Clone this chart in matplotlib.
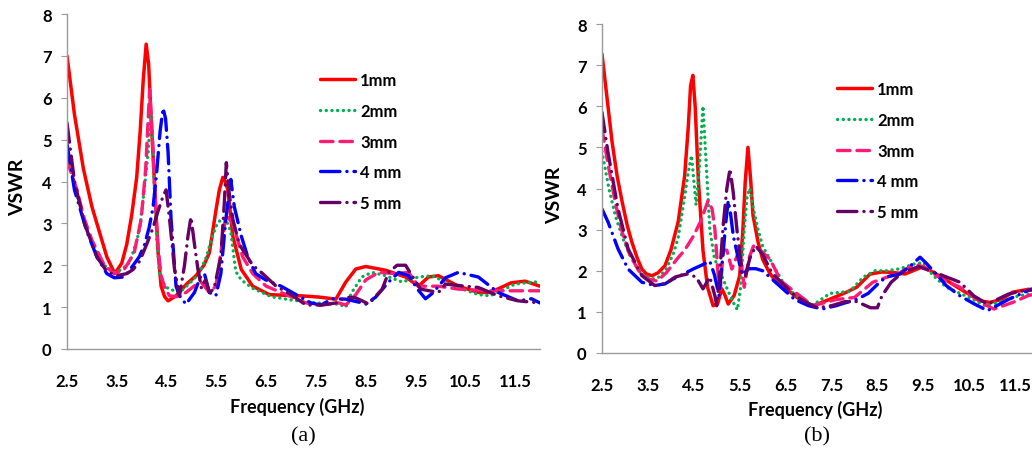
import matplotlib
matplotlib.use('Agg')
import matplotlib.pyplot as plt

plt.rcParams['font.family'] = ['Lato', 'DejaVu Sans']
plt.rcParams['lines.scale_dashes'] = False

labels = ['1mm', '2mm', '3mm', '4 mm', '5 mm']
xticks = [2.5, 3.5, 4.5, 5.5, 6.5, 7.5, 8.5, 9.5, 10.5, 11.5]

# ---- (a) ----
a1_x = [2.5, 2.65, 2.83, 3.0, 3.15, 3.3, 3.46, 3.6, 3.7, 3.8, 3.9, 3.97, 4.03, 4.09, 4.14, 4.19, 4.26, 4.33,
        4.39, 4.46, 4.53, 4.69, 4.9, 5.09, 5.25, 5.36, 5.49, 5.56, 5.63, 5.68, 5.73, 5.83, 6.0, 6.23, 6.56,
        6.9, 7.2, 7.56, 7.9, 8.1, 8.3, 8.5, 8.9, 9.3, 9.56, 9.76, 9.96, 10.36, 10.76, 11.0, 11.42, 11.7, 12.0]
a1_y = [7.0, 5.6, 4.3, 3.4, 2.8, 2.2, 1.8, 2.05, 2.5, 3.2, 4.1, 5.2, 6.4, 7.28, 6.8, 5.5, 3.9, 2.3,
        1.5, 1.25, 1.15, 1.27, 1.55, 1.75, 2.0, 2.3, 3.3, 3.8, 4.1, 4.0, 3.8, 2.7, 1.9, 1.5, 1.3,
        1.28, 1.27, 1.24, 1.19, 1.6, 1.91, 1.97, 1.88, 1.72, 1.5, 1.72, 1.75, 1.5, 1.35, 1.35, 1.58, 1.62, 1.5]

a2_x = [2.5, 2.65, 2.85, 3.05, 3.25, 3.45, 3.6, 3.76, 3.88, 3.96, 4.06, 4.13, 4.18, 4.22, 4.26, 4.31, 4.36,
        4.46, 4.56, 4.76, 4.95, 5.15, 5.3, 5.42, 5.52, 5.6, 5.69, 5.79, 5.89, 6.0, 6.23, 6.6, 7.0, 7.5,
        7.96, 8.1, 8.22, 8.42, 8.63, 8.9, 9.23, 9.56, 9.83, 10.1, 10.4, 10.76, 11.0, 11.5, 11.86, 12.0]
a2_y = [4.8, 3.9, 3.0, 2.4, 2.0, 1.82, 1.9, 2.07, 2.5, 2.86, 3.9, 4.7, 5.7, 5.0, 3.6, 2.5, 1.8,
        1.5, 1.43, 1.35, 1.55, 1.8, 2.2, 2.7, 3.0, 3.1, 3.1, 2.8, 1.85, 1.65, 1.45, 1.25, 1.17, 1.1,
        1.07, 1.0, 1.35, 1.72, 1.83, 1.75, 1.6, 1.72, 1.75, 1.6, 1.45, 1.3, 1.27, 1.55, 1.6, 1.6]

a3_x = [2.5, 2.7, 2.85, 3.0, 3.25, 3.45, 3.65, 3.85, 3.99, 4.08, 4.16, 4.23, 4.29, 4.34, 4.39, 4.47, 4.56,
        4.7, 4.89, 5.05, 5.19, 5.36, 5.49, 5.59, 5.69, 5.83, 6.03, 6.23, 6.5, 6.9, 7.3, 7.6, 7.96, 8.1,
        8.3, 8.5, 8.76, 9.1, 9.36, 9.56, 9.96, 10.36, 11.0, 11.7, 12.0]
a3_y = [4.5, 3.8, 3.1, 2.6, 2.0, 1.8, 1.9, 2.3, 3.1, 4.3, 6.2, 4.7, 3.1, 2.3, 1.75, 1.45, 1.27,
        1.25, 1.35, 1.5, 1.6, 1.35, 1.5, 2.3, 3.2, 3.0, 2.2, 1.8, 1.5, 1.3, 1.1, 1.05, 1.1, 1.05,
        1.3, 1.65, 1.83, 1.8, 1.83, 1.5, 1.5, 1.43, 1.39, 1.39, 1.39]

a4_x = [2.5, 2.65, 2.9, 3.1, 3.3, 3.45, 3.65, 3.83, 3.95, 4.06, 4.15, 4.23, 4.3, 4.37, 4.43, 4.48, 4.53,
        4.59, 4.69, 4.76, 4.89, 5.06, 5.19, 5.26, 5.36, 5.49, 5.59, 5.69, 5.79, 5.86, 6.0, 6.13, 6.29,
        6.49, 6.8, 7.1, 7.4, 7.6, 7.83, 8.1, 8.43, 8.5, 8.7, 8.96, 9.16, 9.36, 9.56, 9.7, 9.86, 10.1,
        10.36, 10.76, 11.16, 11.56, 11.83, 12.0]
a4_y = [4.9, 3.8, 2.8, 2.2, 1.8, 1.7, 1.72, 2.0, 2.2, 2.5, 2.9, 3.4, 4.2, 5.2, 5.75, 5.5, 4.7,
        3.1, 1.5, 1.27, 1.07, 1.35, 1.75, 1.8, 1.35, 1.27, 1.8, 3.1, 4.05, 3.4, 2.7, 2.2, 1.8,
        1.65, 1.5, 1.3, 1.1, 1.05, 1.2, 1.19, 1.1, 1.07, 1.24, 1.6, 1.83, 1.75, 1.4, 1.2, 1.35, 1.7,
        1.83, 1.72, 1.35, 1.15, 1.2, 1.1]

a5_x = [2.5, 2.65, 2.85, 3.1, 3.3, 3.5, 3.7, 3.83, 3.96, 4.1, 4.23, 4.33, 4.43, 4.49, 4.56, 4.66, 4.76,
        4.86, 4.93, 4.99, 5.06, 5.13, 5.2, 5.28, 5.36, 5.45, 5.59, 5.66, 5.7, 5.76, 5.83, 5.96, 6.23,
        6.43, 6.7, 7.0, 7.3, 7.6, 7.9, 8.1, 8.3, 8.43, 8.56, 8.83, 8.96, 9.13, 9.3, 9.43, 9.6, 9.96,
        10.1, 10.5, 10.76, 11.16, 11.56, 12.0]
a5_y = [5.4, 4.0, 3.0, 2.2, 1.85, 1.75, 1.8, 1.9, 2.1, 2.5, 2.9, 3.3, 3.65, 3.8, 3.1, 1.9, 1.27,
        2.0, 2.7, 3.15, 2.5, 1.9, 1.45, 1.65, 1.35, 1.43, 2.2, 3.5, 4.45, 3.7, 3.1, 2.5, 2.0,
        1.8, 1.5, 1.3, 1.05, 1.05, 1.1, 1.24, 1.22, 1.15, 1.07, 1.43, 1.83, 2.0, 2.0, 1.75, 1.43, 1.35,
        1.55, 1.5, 1.47, 1.27, 1.15, 1.1]

# ---- (b) ----
b1_x = [2.5, 2.62, 2.72, 2.83, 2.94, 3.05, 3.15, 3.27, 3.37, 3.47, 3.59, 3.72, 3.87, 4.0, 4.16, 4.3, 4.38,
        4.43, 4.48, 4.53, 4.6, 4.7, 4.8, 4.92, 5.02, 5.11, 5.18, 5.25, 5.38, 5.5, 5.57, 5.62, 5.68, 5.74,
        5.79, 5.9, 6.0, 6.15, 6.3, 6.6, 6.81, 7.1, 7.45, 7.83, 8.05, 8.34, 8.6, 8.84, 9.1, 9.5, 9.86,
        10.3, 10.73, 10.95, 11.2, 11.45, 11.8, 12.0]
b1_y = [7.27, 6.1, 5.13, 4.3, 3.67, 3.1, 2.7, 2.3, 2.04, 1.92, 1.88, 1.95, 2.12, 2.5, 3.19, 4.3, 5.5,
        6.5, 6.75, 6.0, 4.2, 2.5, 1.6, 1.15, 1.2, 1.56, 1.4, 1.19, 1.4, 1.88, 3.0, 4.15, 5.0, 4.2,
        3.35, 2.7, 2.28, 1.95, 1.72, 1.48, 1.3, 1.15, 1.3, 1.48, 1.6, 1.92, 1.97, 1.96, 1.92, 2.1, 1.87,
        1.56, 1.27, 1.23, 1.3, 1.48, 1.55, 1.5]

b2_x = [2.5, 2.65, 2.8, 2.95, 3.1, 3.25, 3.4, 3.6, 3.75, 3.9, 4.05, 4.16, 4.3, 4.38, 4.45, 4.5, 4.55,
        4.62, 4.7, 4.76, 4.85, 4.95, 5.1, 5.25, 5.35, 5.45, 5.52, 5.6, 5.66, 5.72, 5.8, 5.9, 6.0, 6.2,
        6.5, 6.8, 7.1, 7.47, 7.9, 8.2, 8.45, 8.7, 9.0, 9.28, 9.5, 9.7, 10.0, 10.5, 10.85, 11.2, 11.6, 12.0]
b2_y = [4.9, 4.0, 3.3, 2.8, 2.4, 2.1, 1.9, 1.8, 1.85, 2.05, 2.4, 2.8, 3.8, 4.4, 4.8, 4.2, 3.6,
        4.5, 6.0, 4.8, 3.0, 2.3, 1.9, 1.5, 1.25, 1.05, 1.6, 3.0, 3.8, 4.0, 3.5, 3.0, 2.6, 2.2,
        1.6, 1.35, 1.17, 1.45, 1.5, 1.85, 2.0, 2.0, 2.05, 2.16, 2.2, 1.9, 1.6, 1.35, 1.15, 1.25, 1.4, 1.45]

b3_x = [2.5, 2.63, 2.8, 2.95, 3.1, 3.3, 3.5, 3.7, 3.9, 4.13, 4.3, 4.48, 4.65, 4.81, 4.9, 4.96, 5.03,
        5.08, 5.14, 5.22, 5.33, 5.42, 5.5, 5.6, 5.7, 5.8, 5.95, 6.16, 6.4, 6.8, 7.1, 7.6, 8.0, 8.4,
        8.6, 9.0, 9.3, 9.5, 9.9, 10.3, 10.8, 11.04, 11.45, 11.8, 12.0]
b3_y = [5.45, 4.6, 3.6, 2.9, 2.4, 2.0, 1.8, 1.75, 1.95, 2.28, 2.5, 2.82, 3.2, 3.7, 3.5, 3.0, 1.9,
        1.55, 2.5, 2.5, 2.04, 2.3, 2.5, 1.6, 2.3, 2.6, 2.5, 2.28, 1.75, 1.4, 1.15, 1.3, 1.35, 1.72,
        1.8, 1.96, 2.16, 2.1, 1.8, 1.6, 1.2, 1.07, 1.23, 1.4, 1.45]

b4_x = [2.5, 2.63, 2.85, 3.07, 3.37, 3.65, 3.87, 4.05, 4.24, 4.5, 4.7, 4.85, 4.95, 5.05, 5.14, 5.2, 5.25,
        5.3, 5.36, 5.45, 5.55, 5.7, 5.85, 6.0, 6.2, 6.38, 6.7, 7.0, 7.3, 7.6, 7.83, 8.05, 8.3, 8.55,
        8.7, 8.99, 9.2, 9.43, 9.55, 9.8, 10.0, 10.3, 10.6, 10.9, 11.35, 11.85, 12.0]
b4_y = [3.5, 3.19, 2.53, 2.04, 1.72, 1.64, 1.68, 1.8, 1.9, 2.05, 2.15, 2.23, 1.9, 1.4, 2.45, 3.2, 3.7,
        3.4, 2.85, 2.4, 1.9, 2.05, 2.05, 2.0, 1.8, 1.62, 1.3, 1.15, 1.07, 1.15, 1.23, 1.3, 1.45, 1.72,
        1.85, 1.92, 2.1, 2.33, 2.2, 1.9, 1.64, 1.39, 1.2, 1.03, 1.3, 1.55, 1.6]

b5_x = [2.5, 2.63, 2.85, 3.07, 3.37, 3.65, 3.9, 4.1, 4.35, 4.55, 4.7, 4.85, 4.96, 5.0, 5.07, 5.14, 5.22,
        5.29, 5.36, 5.44, 5.55, 5.62, 5.72, 5.85, 6.0, 6.2, 6.38, 6.7, 7.0, 7.2, 7.5, 7.8, 8.05, 8.35,
        8.5, 8.6, 8.8, 9.05, 9.4, 9.75, 10.3, 10.6, 10.9, 11.35, 11.6, 12.0]
b5_y = [5.85, 4.88, 3.5, 2.53, 1.88, 1.64, 1.7, 1.85, 1.92, 1.85, 1.56, 1.85, 1.39, 1.15, 2.0, 3.1, 4.0,
        4.48, 3.9, 3.0, 1.97, 1.85, 2.3, 2.6, 2.4, 1.95, 1.75, 1.4, 1.2, 1.1, 1.15, 1.25, 1.25, 1.1,
        1.1, 1.39, 1.72, 1.96, 2.1, 1.96, 1.72, 1.39, 1.19, 1.43, 1.5, 1.55]

colors = ['#ff0000', '#00b050', '#ff1a75', '#0000ff', '#660066']
dashes = [None, (0.1, 4.0), (9, 5), (14, 5, 0.1, 5), (14, 5, 0.1, 5)]
widths = [2.5, 2.4, 2.4, 2.4, 2.4]


def panel(ax, series, leg_xy):
    for (x, y), lab, c, d, w in zip(series, labels, colors, dashes, widths):
        ln, = ax.plot(x, y, color=c, lw=w, label=lab, solid_capstyle='round')
        if d is not None:
            ln.set_dashes(d)
            ln.set_dash_capstyle('round')
    ax.set_xlim(2.5, 12)
    ax.set_ylim(0, 8)
    ax.set_xticks(xticks)
    ax.set_xticklabels([str(t) for t in xticks])
    ax.set_yticks(range(9))
    ax.patch.set_alpha(0)
    for s in ['top', 'right']:
        ax.spines[s].set_visible(False)
    for s in ['left', 'bottom']:
        ax.spines[s].set_color('#9a9a9a')
        ax.spines[s].set_linewidth(1.0)
    ax.tick_params(axis='y', length=4, color='#9a9a9a', pad=7, labelsize=12)
    ax.tick_params(axis='x', length=0, pad=17, labelsize=12)
    for t in ax.get_xticklabels() + ax.get_yticklabels():
        t.set_fontweight('bold')
    ax.legend(loc='upper left', bbox_to_anchor=leg_xy, frameon=False, borderpad=0,
              borderaxespad=0, handlelength=2.1, handletextpad=0.3, labelspacing=0.88,
              prop={'weight': 'bold', 'size': 12})


fig = plt.figure(figsize=(10.32, 4.52), dpi=100)
axa = fig.add_axes([67 / 1032, 1 - 350 / 452, 473 / 1032, 335 / 452])
axb = fig.add_axes([602 / 1032, 1 - 354 / 452, 436 / 1032, 329 / 452])

panel(axa, [(a1_x, a1_y), (a2_x, a2_y), (a3_x, a3_y), (a4_x, a4_y), (a5_x, a5_y)], (0.535, 0.826))
panel(axb, [(b1_x, b1_y), (b2_x, b2_y), (b3_x, b3_y), (b4_x, b4_y), (b5_x, b5_y)], (0.539, 0.826))

for cx, cy in [(297, 407), (815, 410)]:
    fig.text(cx / 1032, 1 - cy / 452, 'Frequency (GHz)', ha='center', va='center',
             fontsize=13, fontweight='bold')
for cx, cy in [(18, 187), (555, 195)]:
    fig.text(cx / 1032, 1 - cy / 452, 'VSWR', ha='center', va='center', rotation=90,
             fontsize=14, fontweight='bold')
for cx, lab in [(303, '(a)'), (817, '(b)')]:
    fig.text(cx / 1032, 1 - 437 / 452, lab, ha='center', va='center',
             fontsize=16, family='Liberation Serif')

fig.savefig('out.png', dpi=100)
